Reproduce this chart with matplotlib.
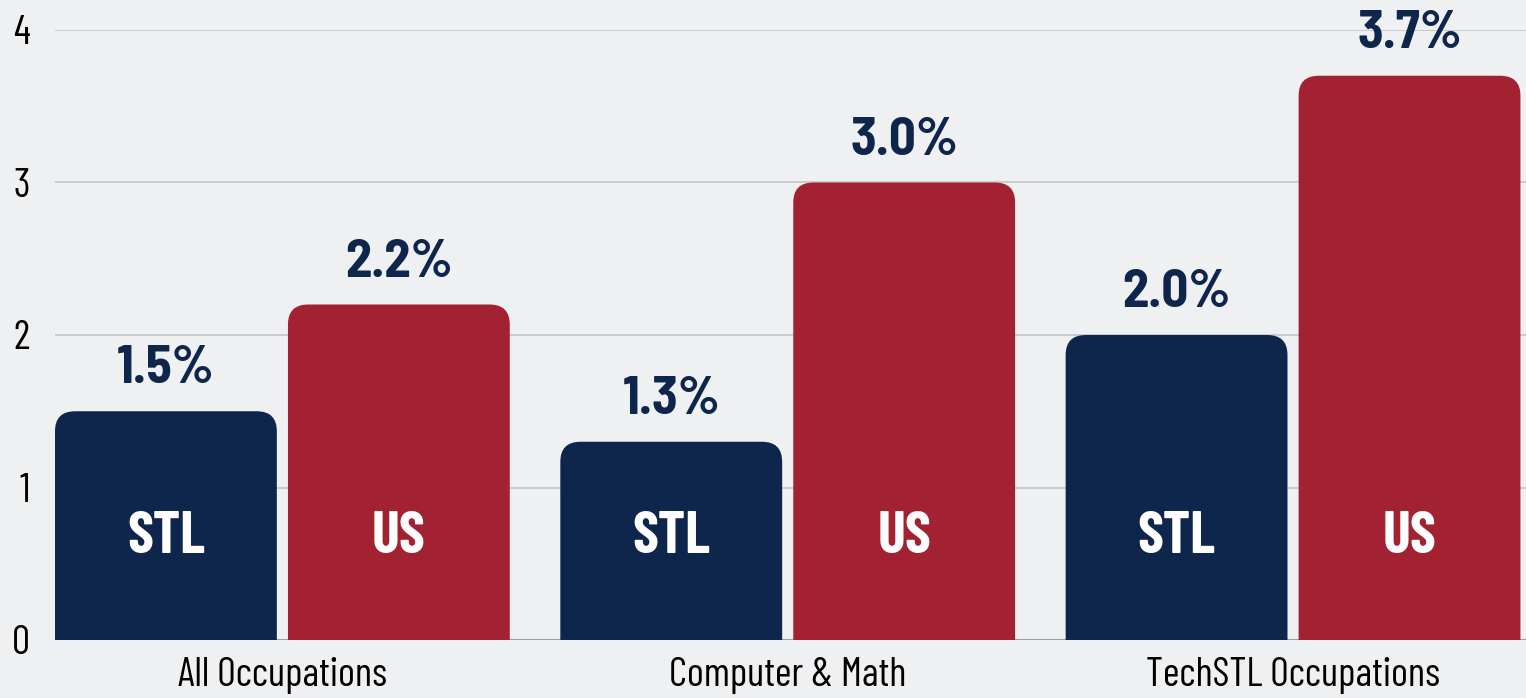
import matplotlib
matplotlib.use('Agg')
from matplotlib import pyplot as plt
from matplotlib.patches import FancyBboxPatch
import numpy as np

categories = ['All Occupations', 'Computer & Math', 'TechSTL Occupations']
stl_values = [1.5, 1.3, 2.0]
us_values = [2.2, 3.0, 3.7]
series_names = ['STL', 'US']
yticks = [0, 1, 2, 3, 4]

navy = '#0e264c'
red = '#a32231'
bg = '#eff0f2'
cond = ['Barlow Condensed', 'DejaVu Sans']
semi = ['Barlow Semi Condensed', 'Barlow Condensed', 'DejaVu Sans']

fig = plt.figure(figsize=(15.26, 6.98), dpi=100, facecolor=bg)
ax = fig.add_axes([55 / 1526, 58 / 698, 1471 / 1526, 610 / 698])
ax.set_facecolor(bg)

x = np.arange(len(categories))
w = 0.439
off = 0.2305
ax.set_xlim(-0.45, 2.461)
ax.set_ylim(0, 4)

# rounded tops: corner radius ~20px in both directions
radius_x = 0.04
aspect = (20 / 152.5) / radius_x

for vals, dx, col, name in [(stl_values, -off, navy, series_names[0]),
                            (us_values, off, red, series_names[1])]:
    bars = ax.bar(x + dx, vals, w, color=col)
    for b, v in zip(bars, vals):
        b.set_visible(False)
        p = FancyBboxPatch((b.get_x(), -0.3), b.get_width(), v + 0.3,
                           boxstyle=f'round,pad=0,rounding_size={radius_x}',
                           mutation_aspect=aspect, fc=col, ec='none', zorder=3)
        ax.add_patch(p)
        cx = b.get_x() + b.get_width() / 2
        ax.annotate(f'{v:.1f}%', (cx, v), xytext=(0, 20), textcoords='offset points',
                    ha='center', va='baseline', fontsize=38, fontweight='bold',
                    color=navy, family=semi, zorder=4)
        ax.text(cx, 0.675, name, ha='center', va='center', fontsize=42,
                fontweight='bold', color='white', family=cond, zorder=4)

ax.set_yticks(yticks)
ax.set_yticklabels([str(t) for t in yticks], fontsize=29, family=cond)
ax.set_xticks(x)
ax.set_xticklabels(categories, fontsize=29, family=cond)
ax.tick_params(length=0)
ax.tick_params(axis='y', pad=18)
ax.tick_params(axis='x', pad=12)
ax.grid(axis='y', color='#c4c5c9', linewidth=1.2, zorder=0)
ax.set_axisbelow(True)
for s in ax.spines.values():
    s.set_visible(False)
ax.axhline(0, color='#a0a0a4', linewidth=1.5, zorder=2)

fig.savefig('out.png', dpi=100, facecolor=bg)
